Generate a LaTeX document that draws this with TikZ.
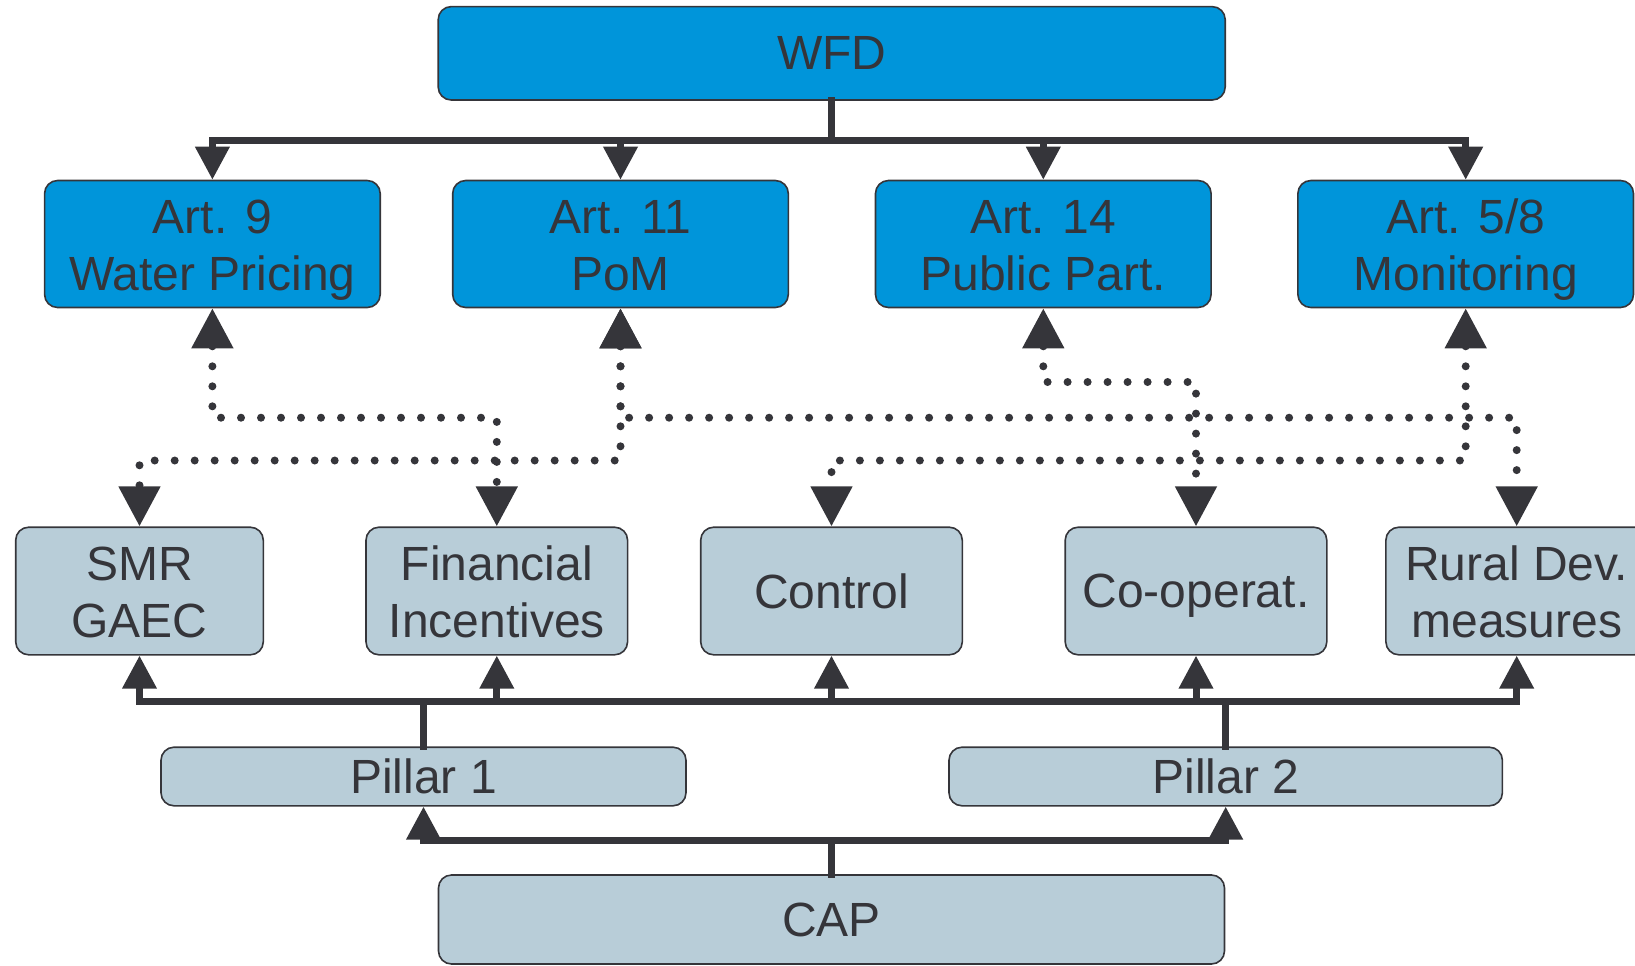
\documentclass[tikz,border=0pt]{standalone}
\usepackage{fontspec}
\setmainfont{Liberation Sans}
\usetikzlibrary{arrows.meta}
\definecolor{wfdblue}{RGB}{0,149,218}
\definecolor{capgray}{RGB}{184,205,216}
\definecolor{linec}{RGB}{53,53,58}
\newcommand{\twolines}[2]{\rule{0pt}{24pt}#1\\#2\rule[-6pt]{0pt}{6pt}}
\begin{document}
\begin{tikzpicture}[x=0.5pt,y=-0.5pt,
  box/.style={draw=linec, line width=0.8pt, rounded corners=6.5pt, inner sep=0pt, align=center, text=linec, font=\fontsize{24}{28.7}\selectfont},
  bluebox/.style={box, fill=wfdblue},
  graybox/.style={box, fill=capgray},
  artsize/.style={minimum width=167.8pt, minimum height=63.5pt},
  botsize/.style={minimum width=130.8pt, minimum height=63.8pt},
  bus/.style={draw=linec, line width=3.5pt, line cap=rect},
  solidarr/.style={draw=linec, line width=3.5pt, -{Triangle[length=16.5pt,width=16.5pt]}},
  dotarr/.style={draw=linec, line width=4pt, line cap=round, dash pattern=on 0pt off 10pt,
     {Triangle[length=20pt,width=20pt]}-{Triangle[length=20pt,width=20pt]}}
]
\useasboundingbox (0,0) rectangle (1635,965);

% nodes
\node[bluebox, minimum width=393.5pt, minimum height=46.7pt, text depth=0pt] (wfd) at (831.7,53.3) {WFD};
\node[bluebox, artsize] (a9)  at (212.4,244)  {\twolines{Art. 9}{Water Pricing}};
\node[bluebox, artsize] (a11) at (620.5,244)  {\twolines{Art. 11}{PoM}};
\node[bluebox, artsize] (a14) at (1043.3,244) {\twolines{Art. 14}{Public Part.}};
\node[bluebox, artsize] (a58) at (1465.7,244) {\twolines{Art. 5/8}{Monitoring}};

\node[graybox, botsize, minimum width=123.8pt] (smr) at (139.5,591) {\twolines{SMR}{GAEC}};
\node[graybox, botsize] (fin)   at (496.8,591)  {\twolines{Financial}{Incentives}};
\node[graybox, botsize, text depth=0pt] (ctrl)  at (831.5,591)  {Control};
\node[graybox, botsize, text depth=0pt] (coop)  at (1196,591)   {Co-operat.};
\node[graybox, botsize] (rural) at (1516.7,591) {\twolines{Rural Dev.}{measures}};

\node[graybox, minimum width=262.5pt, minimum height=29.3pt, text depth=0pt] (p1) at (423.5,776.5) {Pillar 1};
\node[graybox, minimum width=276.7pt, minimum height=29.3pt, text depth=0pt] (p2) at (1225.7,776.5) {Pillar 2};
\node[graybox, minimum width=393pt, minimum height=44.5pt, text depth=0pt] (cap) at (831.5,919.5) {CAP};

% helper levels
\coordinate (ttop) at (831.7,140);
\coordinate (tbus) at (0,701);
\coordinate (cbus) at (0,840);
\coordinate (yA) at (0,382);
\coordinate (yB) at (0,417.7);
\coordinate (yC) at (0,460.5);

% WFD tree
\draw[bus] (wfd.south) -- (wfd.south |- ttop);
\draw[bus] (a9.north |- ttop) -- (a58.north |- ttop);
\foreach \n in {a9,a11,a14,a58} \draw[solidarr] (\n.north |- ttop) -- (\n.north);

% pillar tree
\draw[bus] (smr.south |- tbus) -- (rural.south |- tbus);
\draw[bus] (p1.north) -- (p1.north |- tbus);
\draw[bus] (p2.north) -- (p2.north |- tbus);
\foreach \n in {smr,fin,ctrl,coop,rural} \draw[solidarr] (\n.south |- tbus) -- (\n.south);

% CAP tree
\draw[bus] (cap.north) -- (cap.north |- cbus);
\draw[bus] (p1.south |- cbus) -- (p2.south |- cbus);
\draw[solidarr] (p1.south |- cbus) -- (p1.south);
\draw[solidarr] (p2.south |- cbus) -- (p2.south);

% dotted links
\draw[dotarr] (a9.south) -- (a9.south |- yB) -| (fin.north);
\draw[dotarr] (a11.south) -- (a11.south |- yC) -| (smr.north);
\draw[dotarr] (a11.south) -- (a11.south |- yB) -| (rural.north);
\draw[dotarr] (a14.south) -- (a14.south |- yA) -| (coop.north);
\draw[dotarr] (a58.south) -- (a58.south |- yC) -| (ctrl.north);
\end{tikzpicture}
\end{document}
